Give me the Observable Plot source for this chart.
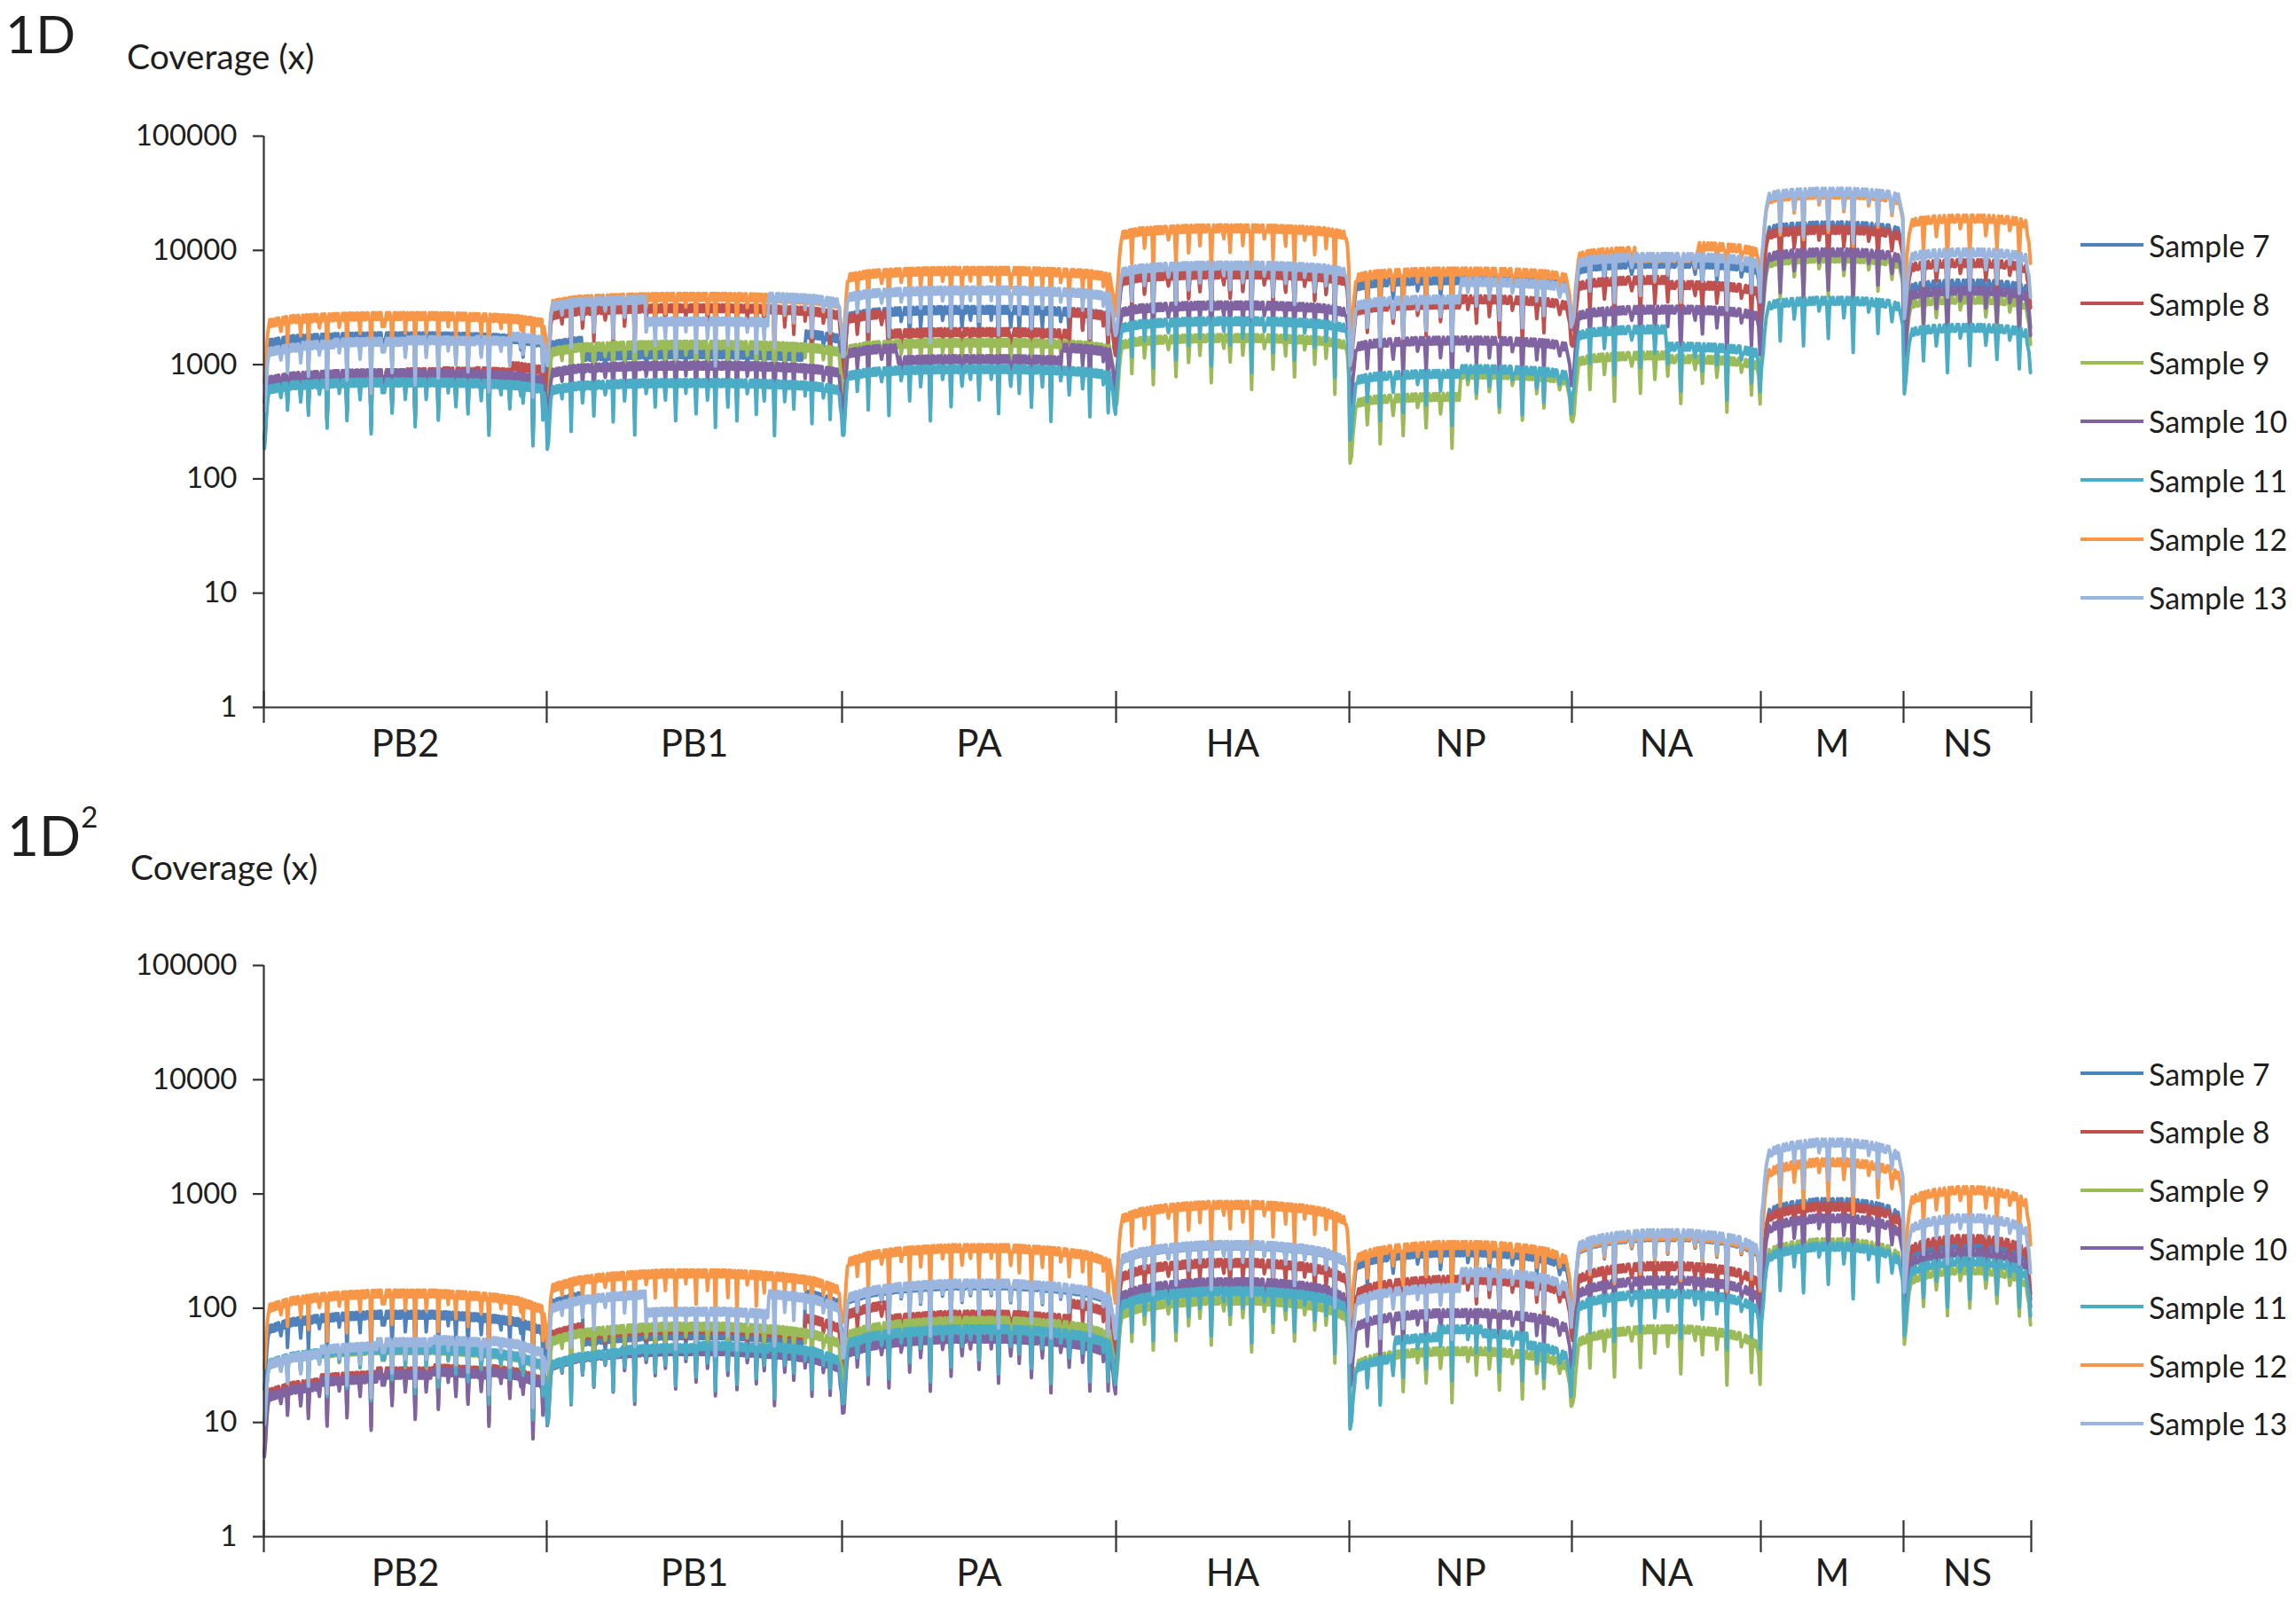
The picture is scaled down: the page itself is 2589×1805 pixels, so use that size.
<!DOCTYPE html>
<html>
<head>
<meta charset="utf-8">
<script src="https://cdn.jsdelivr.net/npm/d3@7"></script>
<script src="https://cdn.jsdelivr.net/npm/@observablehq/plot@0.6"></script>
<style>
  html, body { margin: 0; padding: 0; background: #ffffff; }
  #page { position: relative; width: 2589px; height: 1805px; overflow: hidden; font-family: Lato, "Open Sans", sans-serif; color: #1e1e1e; }
  .panel { position: absolute; left: 0; }
  .t { position: absolute; line-height: 1; white-space: nowrap; }
  .legend { position: absolute; left: 2346px; }
  .li { position: absolute; left: 0; height: 34px; display: flex; align-items: center; white-space: nowrap; font-size: 34px; }
  .li span.sw { display: inline-block; width: 71px; height: 4px; margin-right: 6px; }
</style>
</head>
<body>
<div id="page"></div>
<script>
// ---------- data ----------
const segments = ["PB2", "PB1", "PA", "HA", "NP", "NA", "M", "NS"];
const segLen = [2297, 2398, 2225, 1894, 1807, 1534, 1159, 1037];   // nt per segment
const samples = ["Sample 7", "Sample 8", "Sample 9", "Sample 10", "Sample 11", "Sample 12", "Sample 13"];
const colors = ["#4F81BD", "#C0504D", "#9BBB59", "#8064A2", "#4BACC6", "#F79646", "#9BB6DE"];
const yTicks = [1, 10, 100, 1000, 10000, 100000];

// plateau coverage per sample (rows) and segment (cols); an array = successive steps along the segment
const cov1D = [
  [1900, [1830,1320,1320,1320,1320,1320,1320,2090], 3230, 6800, 5880, 8200, 17700, 5500],
  [[890,890,900,900,920,940,960,1100], 3340, [3100,2070,2070,2070,2070,3200], 6600, [3600,4000], [5900,5340], 16200, 8300],
  [820, 1600, 1670, 1830, [560,880], [1290,1200], 9100, 3970],
  [900, 1050, [1540,1200,1200,1200,1560], 3530, 1740, 3250, 10300, 4760],
  [750, 740, 980, 2570, [890,980], [2180,1540], 3880, 2250],
  [2850, 4200, 7100, 16700, 7000, [10700,9200,11800], 33000, 20400],
  [[1600,1650,1700,1700,1750,1750,1800,2000], [4000,4000,4000,4000,2560,2560,2560,2560,2560,4300,4300,4300], 4780, 7900, [3990,5670], 9400, 35000, 10300]
];
const cov1D2 = [
  [94, [157,62,62,62,62,62,62,163], 170, 380, 330, 450, 910, 383],
  [[26,28,30,32,34], [84,70,70,70,70,70,70,100], [126,94,94,94,94,130], 267, 190, 250, 830, 432],
  [46, 74, 83, 125, 45, 70, 405, 230],
  [[24,26,28,30,32], 45, 58, 181, 97, 187, 656, 330],
  [47, [46,48,50,52], 70, 151, [42,60,70,65,55], 143, 370, 275],
  [144, 216, 360, 860, 383, 460, 2030, 1155],
  [[46,50,54,57,60], [144,144,144,144,100,100,100,100,100,150,150,150], 176, 383, [161,222], 486, 3020, 656]
];
// shape of coverage along a segment (relative, start -> end)
const arc1D  = [0.85, 0.94, 0.97, 0.99, 1, 1, 1, 0.99, 0.97, 0.94, 0.86];
const arc1D2 = [0.72, 0.86, 0.93, 0.97, 1, 1, 1, 0.97, 0.93, 0.86, 0.7];
// coverage dips along each segment (0 = none, 9 = deepest)
const dips = [
  "97421010110100121010041101001100131011005101100101210100171011010010211010061001011010130101100118010110100212101001510101101000310110101700101101031101001010610110100201101140101101001510110100101310101180110100101201011004010110101203101101009101100105123",
  "98521011010012010110070101100103101001101510100110121011006010110100311010101801101001021011010400110101300110101610101100201101001501011010031101007010110100140101101600101100211010105010101300110101810101100310110104010110100201101600101010021101050101101134",
  "996311010100310110100601101010012101017001101010211010050101101031010101801011010021011016001011013101001201011050101101002011017001010101311010040101011016101010013011010801011002110101410101101003101017001101010021016012356",
  "97421010110050101101003101101700101011001210101600110101041011010030101100171011010012010140110101003101011801010110021101005010110101301010160110100210110104101011003101101800101101125",
  "98531101010041011010070101100131010116010110100210101500110101031011010800101101002101104010110103101011600101100211010170101101003101050101101001210101236",
  "98531010110050101101003101101700101011001210101600110101041011010030101100171011010012010140110101003101011801010110021101005010126",
  "97421011010061010110031010170110101002101016010110100310101801011010021011050101100131010123",
  "97421010110050101100310110170101100210101600110101031011015010110021010160110236"
];

// ---------- build ----------
const total = d3.sum(segLen);
const bounds = Array.from(d3.cumsum([0, ...segLen]));
const mids = segLen.map((L, i) => bounds[i] + L / 2);

function arcAt(arc, f) {
  const p = f * (arc.length - 1), i = Math.min(arc.length - 2, Math.floor(p)), t = p - i;
  return arc[i] * (1 - t) + arc[i + 1] * t;
}
function buildRows(levels, arc) {
  const rows = [];
  samples.forEach((s, si) => {
    segments.forEach((seg, gi) => {
      const str = dips[gi], n = str.length, L = segLen[gi], lev = levels[si][gi];
      for (let i = 0; i < n; i++) {
        const f = (i + 0.5) / n;
        const base = Array.isArray(lev) ? lev[Math.min(lev.length - 1, Math.floor(f * lev.length))] : lev;
        rows.push({sample: s, x: bounds[gi] + f * L, y: base * arcAt(arc, f) * Math.pow(10, -0.06 * (+str[i]))});
      }
    });
  });
  return rows;
}

const axisColor = "#333333";
function panel(rows) {
  return Plot.plot({
    width: 2589, height: 870,
    marginLeft: 297, marginRight: 299, marginTop: 153, marginBottom: 73,
    x: {domain: [0, total], axis: null},
    y: {type: "log", domain: [1, 100000], axis: null},
    color: {domain: samples, range: colors},
    style: {fontFamily: "Lato, 'Open Sans', sans-serif", background: "transparent", overflow: "visible", color: "#1e1e1e"},
    marks: [
      Plot.line(rows, {x: "x", y: "y", z: "sample", stroke: "sample", strokeWidth: 4, curve: "linear"}),
      Plot.ruleX([0], {y1: 1, y2: 100000, stroke: axisColor, strokeWidth: 2.2}),
      Plot.ruleY([1], {stroke: axisColor, strokeWidth: 2.2}),
      Plot.ruleX(bounds, {y1: Math.pow(10, -0.14), y2: Math.pow(10, 0.14), stroke: axisColor, strokeWidth: 2.2}),
      Plot.axisY({ticks: yTicks, tickFormat: d => String(d), label: null, tickSize: 12, tickPadding: 18, fontSize: 33, stroke: axisColor, strokeWidth: 2.2, fill: "#1e1e1e"}),
      Plot.text(segments.map((s, i) => ({s, x: mids[i]})), {x: "x", y: () => 1, dy: 42, text: "s", fontSize: 42, fill: "#1e1e1e"})
    ]
  });
}

const page = document.getElementById("page");
function addPanel(top, rows) {
  const wrap = document.createElement("div");
  wrap.className = "panel";
  wrap.style.top = top + "px";
  wrap.appendChild(panel(rows));
  page.appendChild(wrap);
}
addPanel(0, buildRows(cov1D, arc1D));
addPanel(935, buildRows(cov1D2, arc1D2));

function addText(html, left, top, size) {
  const d = document.createElement("div");
  d.className = "t";
  d.style.left = left + "px"; d.style.top = top + "px"; d.style.fontSize = size + "px";
  d.innerHTML = html;
  page.appendChild(d);
}
addText("1D", 6, 8, 59);
addText("Coverage (x)", 143, 44, 39);
addText("1D<sup style=\"font-size:33px; position:relative; top:-6px; vertical-align:top;\">2</sup>", 8, 910, 62);
addText("Coverage (x)", 147, 958, 39);

function addLegend(firstCenter, step) {
  const lg = document.createElement("div");
  lg.className = "legend";
  lg.style.top = "0px";
  samples.forEach((s, i) => {
    const row = document.createElement("div");
    row.className = "li";
    row.style.top = (firstCenter + i * step - 17) + "px";
    row.innerHTML = `<span class="sw" style="background:${colors[i]}"></span>${s}`;
    lg.appendChild(row);
  });
  page.appendChild(lg);
}
addLegend(276, 66.3);
addLegend(1210, 65.8);
</script>
</body>
</html>
